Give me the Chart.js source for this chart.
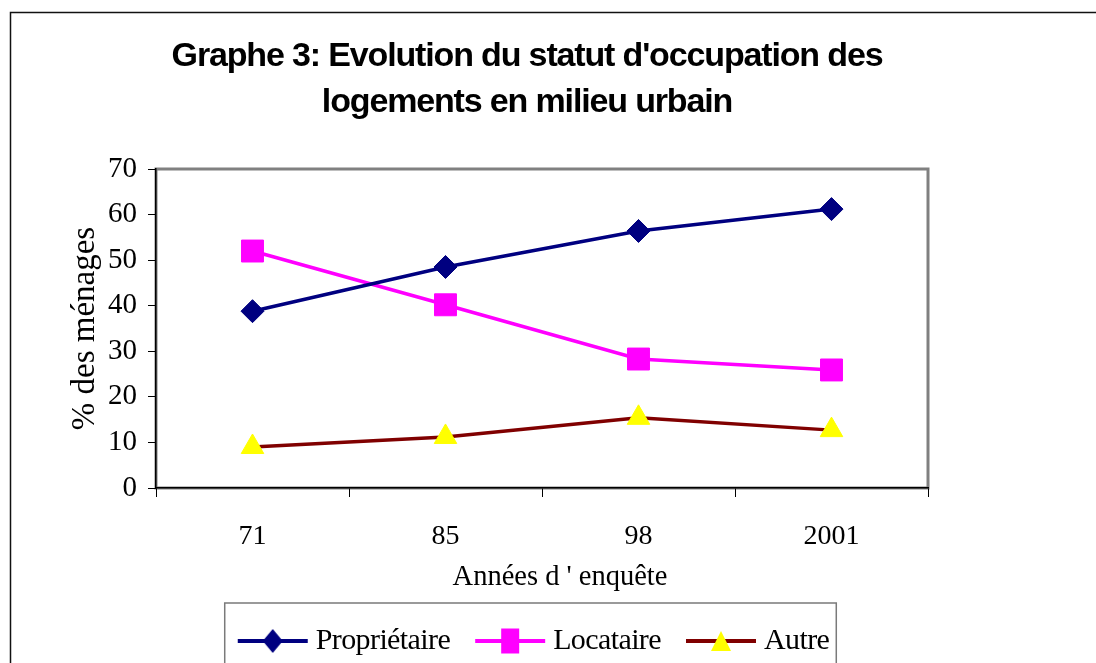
<!DOCTYPE html>
<html lang="fr">
<head>
<meta charset="utf-8">
<title>Graphe 3</title>
<script src="https://cdn.jsdelivr.net/npm/chart.js@4.4.1/dist/chart.umd.min.js"></script>
<style>
  html, body { margin: 0; padding: 0; background: #fff; }
  #wrap { width: 1096px; height: 663px; }
</style>
</head>
<body>
<div id="wrap"><canvas id="graphe" width="1096" height="663"></canvas></div>
<script>
// données (% des ménages)
const annees = ["71", "85", "98", "2001"];
const proprietaire = [38.8, 48.5, 56.4, 61.2];
const locataire = [52.0, 40.2, 28.3, 25.9];
const autre = [9.0, 11.2, 15.4, 12.7];
const graduations = [0, 10, 20, 30, 40, 50, 60, 70];

const SERIF = "'Liberation Serif', 'Times New Roman', serif";
const SANS = "'Liberation Sans', Arial, sans-serif";

Chart.defaults.color = "#000";

// icône "trait + marqueur" de la légende
function legendIcon(color, fill, shape) {
  const c = document.createElement("canvas");
  c.width = 72; c.height = 28;
  const g = c.getContext("2d");
  g.strokeStyle = color; g.lineWidth = 4;
  g.beginPath(); g.moveTo(1, 14); g.lineTo(71, 14); g.stroke();
  g.fillStyle = fill;
  g.beginPath();
  if (shape === "diamond") {
    g.moveTo(36, 2); g.lineTo(46, 14); g.lineTo(36, 26); g.lineTo(26, 14);
  } else if (shape === "square") {
    g.rect(27, 1.5, 18, 25);
  } else {
    g.moveTo(36, 4); g.lineTo(46, 24); g.lineTo(26, 24);
  }
  g.closePath(); g.fill();
  return c;
}
const icons = [
  legendIcon("#000080", "#000080", "diamond"),
  legendIcon("#ff00ff", "#ff00ff", "square"),
  legendIcon("#800000", "#ffff00", "triangle")
];

const DECALAGE_LEGENDE = -5;

const cadres = {
  id: "cadres",
  beforeLayout(chart) { chart.ctx.letterSpacing = "-0.6px"; },
  afterLayout(chart) { chart.ctx.letterSpacing = "0px"; },
  beforeDraw(chart) {
    const { ctx, chartArea: a } = chart;
    ctx.save();
    ctx.fillStyle = "#fff";
    ctx.fillRect(0, 0, chart.width, chart.height);
    // cadre extérieur
    ctx.strokeStyle = "#111"; ctx.lineWidth = 1.5;
    ctx.strokeRect(10.5, 12.5, chart.width + 20, chart.height + 20);
    // zone de traçage
    ctx.strokeStyle = "#808080"; ctx.lineWidth = 3;
    ctx.strokeRect(a.left, a.top, a.right - a.left, a.bottom - a.top);
    // cadre de la légende
    const hb = chart.legend && chart.legend.legendHitBoxes;
    if (hb && hb.length) {
      const last = hb[hb.length - 1];
      const l = hb[0].left - 20 + DECALAGE_LEGENDE, r = last.left + last.width + 7 + DECALAGE_LEGENDE;
      ctx.strokeStyle = "#7a7a7a"; ctx.lineWidth = 1.5;
      ctx.strokeRect(l, 603, r - l, 120);
    }
    ctx.restore();
  }
};

const chart = new Chart(document.getElementById("graphe"), {
  type: "line",
  data: {
    labels: annees,
    datasets: [
      { label: "Propriétaire", data: proprietaire, borderColor: "#000080", backgroundColor: "#000080",
        pointStyle: "rectRot", pointRadius: 11.5, pointBorderColor: "#000080", pointBackgroundColor: "#000080" },
      { label: "Locataire", data: locataire, borderColor: "#ff00ff", backgroundColor: "#ff00ff",
        pointStyle: "rect", pointRadius: 15.5, pointBorderColor: "#ff00ff", pointBackgroundColor: "#ff00ff" },
      { label: "Autre", data: autre, borderColor: "#800000", backgroundColor: "#ffff00",
        pointStyle: "triangle", pointRadius: 13, pointBorderColor: "#ffff00", pointBackgroundColor: "#ffff00" }
    ]
  },
  options: {
    responsive: false,
    animation: false,
    events: [],
    layout: { padding: { left: 106, right: 148, top: 0, bottom: -3 } },
    elements: {
      line: { borderWidth: 3.5, tension: 0 },
      point: { borderWidth: 1 }
    },
    plugins: {
      title: {
        display: true,
        text: ["Graphe 3: Evolution du statut d'occupation des", "logements en milieu urbain"],
        font: { family: SANS, size: 34, weight: "bold", lineHeight: "46px" },
        color: "#000",
        padding: { top: 34, bottom: 43 }
      },
      legend: {
        position: "bottom",
        fullSize: false,
        labels: {
          font: { family: SERIF, size: 30 },
          color: "#000",
          usePointStyle: true,
          pointStyleWidth: 56,
          padding: 32,
          generateLabels(c) {
            const items = Chart.defaults.plugins.legend.labels.generateLabels(c);
            items.forEach((it, i) => { it.pointStyle = icons[i]; });
            return items;
          }
        }
      },
      tooltip: { enabled: false }
    },
    scales: {
      x: {
        offset: true,
        grid: { display: true, drawOnChartArea: false, drawTicks: true, tickLength: 9, color: "#000", offset: true },
        border: { display: true, color: "#000", width: 1.5 },
        ticks: { font: { family: SERIF, size: 28 }, color: "#000", padding: 23 },
        title: { display: true, text: "Années d ' enquête", font: { family: SERIF, size: 28.5 }, color: "#000",
                 padding: { top: 0, bottom: -1 } },
        afterFit(s) { s.height = 106; }
      },
      y: {
        min: graduations[0],
        max: graduations[graduations.length - 1],
        afterBuildTicks(s) { s.ticks = graduations.map(v => ({ value: v })); },
        grid: { display: true, drawOnChartArea: false, drawTicks: true, tickLength: 8, color: "#000" },
        border: { display: true, color: "#000", width: 1.5 },
        ticks: { font: { family: SERIF, size: 29 }, color: "#000", padding: 11 },
        title: { display: true, text: "% des ménages", font: { family: SERIF, size: 33 }, color: "#000",
                 padding: { top: -40.8, bottom: 0 } },
        afterFit(s) { s.width = 50; }
      },
      // axe vide à droite : réserve seulement l'espace
      y2: {
        position: "right",
        grid: { display: false },
        border: { display: false },
        ticks: { display: false },
        afterFit(s) { s.width = 20; }
      }
    }
  },
  plugins: [cadres]
});

// enveloppe un dessin : espacement des lettres et petit décalage horizontal
function envelopper(obj, nom, spacing, dx) {
  const orig = obj[nom].bind(obj);
  obj[nom] = function (...args) {
    const ctx = chart.ctx;
    ctx.save();
    ctx.letterSpacing = spacing;
    ctx.translate(dx, 0);
    orig(...args);
    ctx.restore();
  };
}
envelopper(chart.titleBlock, "draw", "-1.15px", 0);
envelopper(chart.legend, "draw", "-0.6px", DECALAGE_LEGENDE);
envelopper(chart.scales.x, "drawTitle", "0px", 18);
chart.update();
</script>
</body>
</html>
